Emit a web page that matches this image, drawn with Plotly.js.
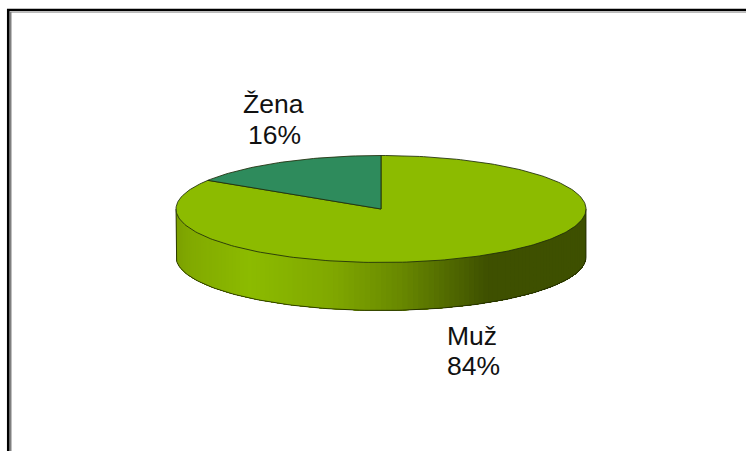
<!DOCTYPE html>
<html><head><meta charset="utf-8">
<script src="https://cdn.plot.ly/plotly-3.0.1.min.js"></script>
<style>html,body{margin:0;padding:0;background:#fff;overflow:hidden}#c{width:746px;height:451px}</style>
</head><body><div id="c"></div>
<script>
// Data
const categories = ['Muž', 'Žena'];
const shares = [84, 16];
const sliceColors = ['#8cbb00', '#2e8b5c'];
// Side wall gradient: fraction across the pie -> colour
const wallStops = [0, 0.04, 0.18, 0.38, 0.55, 0.76, 1];
const wallColors = [[124,160,0],[130,170,0],[140,187,0],[128,168,0],[104,136,0],[62,80,0],[62,80,0]];

// Pie geometry in page pixels
const cx = 381, cy = 209, rx = 205, ry = 53.5, depth = 48;
const toX = t => cx + rx * Math.sin(t);
const toY = t => cy - ry * Math.cos(t);
const mix = f => {
  let i = 0;
  while (i < wallStops.length - 2 && f > wallStops[i + 1]) i++;
  const k = (f - wallStops[i]) / (wallStops[i + 1] - wallStops[i]);
  const c = wallColors[i].map((v, j) => Math.round(v + (wallColors[i + 1][j] - v) * k));
  return `rgb(${c[0]},${c[1]},${c[2]})`;
};
const traces = [];
const base = {type: 'scatter', mode: 'lines', hoverinfo: 'skip', showlegend: false};

// Wall strips, each running to the right edge so that the next one paints over it
const strips = 120;
for (let s = 0; s < strips; s++) {
  const a = -Math.PI / 2 - Math.PI * s / strips, b = -Math.PI * 1.5;
  const xs = [], ys = [], n = strips - s + 1;
  for (let q = 0; q <= n; q++) { const t = a + (b - a) * q / n; xs.push(toX(t)); ys.push(toY(t)); }
  for (let q = n; q >= 0; q--) { const t = a + (b - a) * q / n; xs.push(toX(t)); ys.push(toY(t) + depth); }
  xs.push(xs[0]); ys.push(ys[0]);
  const col = mix((toX(a - Math.PI / strips / 2) - (cx - rx)) / (2 * rx));
  traces.push({...base, x: xs, y: ys, fill: 'toself', fillcolor: col, line: {color: col, width: 0}});
}
// Wall outline
{
  const xs = [], ys = [];
  xs.push(cx - rx); ys.push(cy);
  for (let q = 0; q <= 120; q++) { const t = Math.PI * 1.5 - Math.PI * q / 120; xs.push(toX(t)); ys.push(toY(t) + depth); }
  xs.push(cx + rx); ys.push(cy);
  traces.push({...base, x: xs, y: ys, line: {color: 'rgba(30,40,0,0.85)', width: 1}});
}
// Top slices, clockwise from 12 o'clock, sized from the shares
const total = shares.reduce((a, b) => a + b, 0);
let start = 0;
shares.forEach((v, i) => {
  const end = start + v / total * 2 * Math.PI;
  const n = Math.max(8, Math.round(v * 3));
  const xs = [cx], ys = [cy];
  for (let q = 0; q <= n; q++) { const t = start + (end - start) * q / n; xs.push(toX(t)); ys.push(toY(t)); }
  xs.push(cx); ys.push(cy);
  traces.push({...base, name: categories[i], x: xs, y: ys, fill: 'toself', fillcolor: sliceColors[i],
    line: {color: 'rgba(30,45,10,0.85)', width: 1}});
  start = end;
});

const labelFont = {family: '"Liberation Sans", Arial, sans-serif', size: 26.5, color: '#111'};
const note = (text, x, y) => ({text, x, y, xref: 'x', yref: 'y', showarrow: false, xanchor: 'center', yanchor: 'middle', font: labelFont});
const annotations = [
  note(categories[1], 273, 104), note(shares[1] + '%', 274, 135),
  note(categories[0], 472, 336), note(shares[0] + '%', 473, 366)
];
const shapes = [
  {type: 'line', xref: 'x', yref: 'y', x0: 11, x1: 746, y0: 12.5, y1: 12.5, line: {color: '#bbbbbb', width: 1}},
  {type: 'line', xref: 'x', yref: 'y', x0: 10.5, x1: 10.5, y0: 12, y1: 451, line: {color: '#808080', width: 2}},
  {type: 'line', xref: 'x', yref: 'y', x0: 7, x1: 746, y0: 10, y1: 10, line: {color: '#000', width: 2.5}},
  {type: 'line', xref: 'x', yref: 'y', x0: 8.2, x1: 8.2, y0: 9, y1: 451, line: {color: '#000', width: 2.5}}
];
Plotly.newPlot('c', traces, {
  width: 746, height: 451, margin: {l: 0, r: 0, t: 0, b: 0},
  paper_bgcolor: '#fff', plot_bgcolor: '#fff', showlegend: false,
  xaxis: {range: [0, 746], visible: false, fixedrange: true},
  yaxis: {range: [451, 0], visible: false, fixedrange: true},
  annotations, shapes
}, {displayModeBar: false, staticPlot: true});
</script></body></html>
